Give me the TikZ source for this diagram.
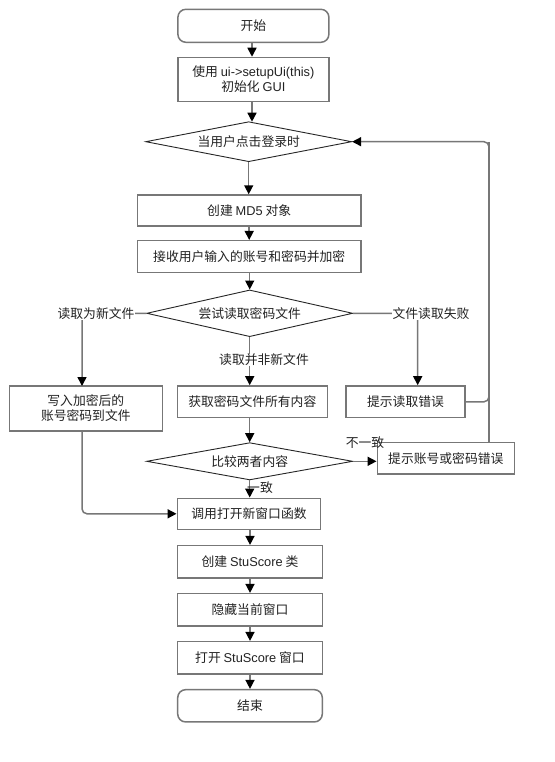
\documentclass[tikz,border=0pt]{standalone}
\usepackage{fontspec}
\setmainfont{Liberation Sans}
\newfontfamily\cjk{Noto Sans CJK SC}
\usetikzlibrary{shapes.geometric,arrows.meta,calc}
\definecolor{edgegray}{HTML}{777777}
\definecolor{txt}{HTML}{222222}
\tikzset{
  base/.style={draw=edgegray,line width=1.5pt,text=txt,inner sep=1pt,font=\fontsize{12.8}{15}\selectfont\cjk,align=center},
  proc/.style={base,rectangle},
  term/.style={base,rectangle,rounded corners=8pt},
  decide/.style={base,diamond,shape aspect=5,inner sep=0pt,draw=black!85,line width=0.9pt},
  conn/.style={draw=edgegray,line width=1.5pt,-{Triangle[length=9pt,width=9pt,black]}},
  plain/.style={draw=edgegray,line width=1.5pt},
  lbl/.style={text=txt,font=\fontsize{12.8}{15}\selectfont\cjk,inner sep=0.5pt}
}
\begin{document}
\begin{tikzpicture}[x=1pt,y=-1pt]
\useasboundingbox[fill=white] (0,0) rectangle (554,762);
\node[term,minimum width=151pt,minimum height=33pt] (start) at (253.4,25.8) {开始};
\node[proc,minimum width=151pt,minimum height=44pt] (init) at (253.4,79.5) {使用 {\rmfamily ui->setupUi(this)}\\初始化 {\rmfamily GUI}};
\node[decide,minimum width=206pt,minimum height=40pt] (login) at (248.7,141.7) {当用户点击登录时};
\node[proc,minimum width=223.7pt,minimum height=31pt] (md5) at (249.2,210.5) {创建 {\rmfamily MD5} 对象};
\node[proc,minimum width=223.7pt,minimum height=32pt] (recv) at (249.2,256.7) {接收用户输入的账号和密码并加密};
\node[decide,minimum width=206pt,minimum height=46.7pt] (try) at (249.7,313.3) {尝试读取密码文件};
\node[proc,minimum width=153pt,minimum height=45pt] (write) at (85.8,408.5) {写入加密后的\\账号密码到文件};
\node[proc,minimum width=150pt,minimum height=31.7pt] (get) at (252.3,401.8) {获取密码文件所有内容};
\node[proc,minimum width=119pt,minimum height=31.7pt] (readerr) at (405.5,401.8) {提示读取错误};
\node[decide,minimum width=206pt,minimum height=37.3pt] (cmp) at (249.7,461.3) {比较两者内容};
\node[proc,minimum width=137pt,minimum height=31.7pt] (pwderr) at (445.8,458.2) {提示账号或密码错误};
\node[proc,minimum width=143.4pt,minimum height=31pt] (call) at (249,513.8) {调用打开新窗口函数};
\node[proc,minimum width=144.6pt,minimum height=32.3pt] (stu) at (250,561.8) {创建 {\rmfamily StuScore} 类};
\node[proc,minimum width=144.6pt,minimum height=32.3pt] (hide) at (250,609.8) {隐藏当前窗口};
\node[proc,minimum width=144.6pt,minimum height=32.3pt] (open) at (250,657.8) {打开 {\rmfamily StuScore} 窗口};
\node[term,minimum width=144.6pt,minimum height=32.3pt] (end) at (250,705.8) {结束};
\coordinate (loopx) at (489,141.7);
% edges
\draw[conn] (start.south -| 252,0) -- (init.north -| 252,0);
\draw[conn] (init.south -| 252,0) -- (252,121.7);
\draw[conn] (login.south) -- (md5.north -| login.south);
\draw[conn] (md5.south) -- (recv.north);
\draw[conn] (recv.south -| try.north) -- (try.north);
\draw[conn,rounded corners=5pt] (try.west) -| (82,386);
\draw[conn] (try.south) -- (try.south |- get.north);
\draw[conn,rounded corners=5pt] (try.east) -| ($(readerr.north)+(12.2,0)$);
\draw[conn,rounded corners=5pt] (readerr.east) -| (loopx) -- (login.east);
\draw[plain] (pwderr.north -| loopx) -- (loopx);
\draw[conn] (get.south -| cmp.north) -- (cmp.north);
\draw[conn] (cmp.east) -- (cmp.east -| pwderr.west);
\draw[conn] (cmp.south) -- (cmp.south |- call.north);
\draw[conn,rounded corners=5pt] (82,431) |- (call.west);
\draw[conn] (call.south -| stu.north) -- (stu.north);
\draw[conn] (stu.south) -- (hide.north);
\draw[conn] (hide.south) -- (open.north);
\draw[conn] (open.south) -- (end.north);
% labels
\node[lbl,fill=white] (l1) at (96,313.3) {读取为新文件};
\node[lbl,fill=white] (l2) at (264,360) {读取并非新文件};
\node[lbl,fill=white] (l3) at (431,313.3) {文件读取失败};
\node[lbl] (l4) at (365,443) {不一致};
\node[lbl] (l5) at (260,487.3) {一致};
\end{tikzpicture}
\end{document}
